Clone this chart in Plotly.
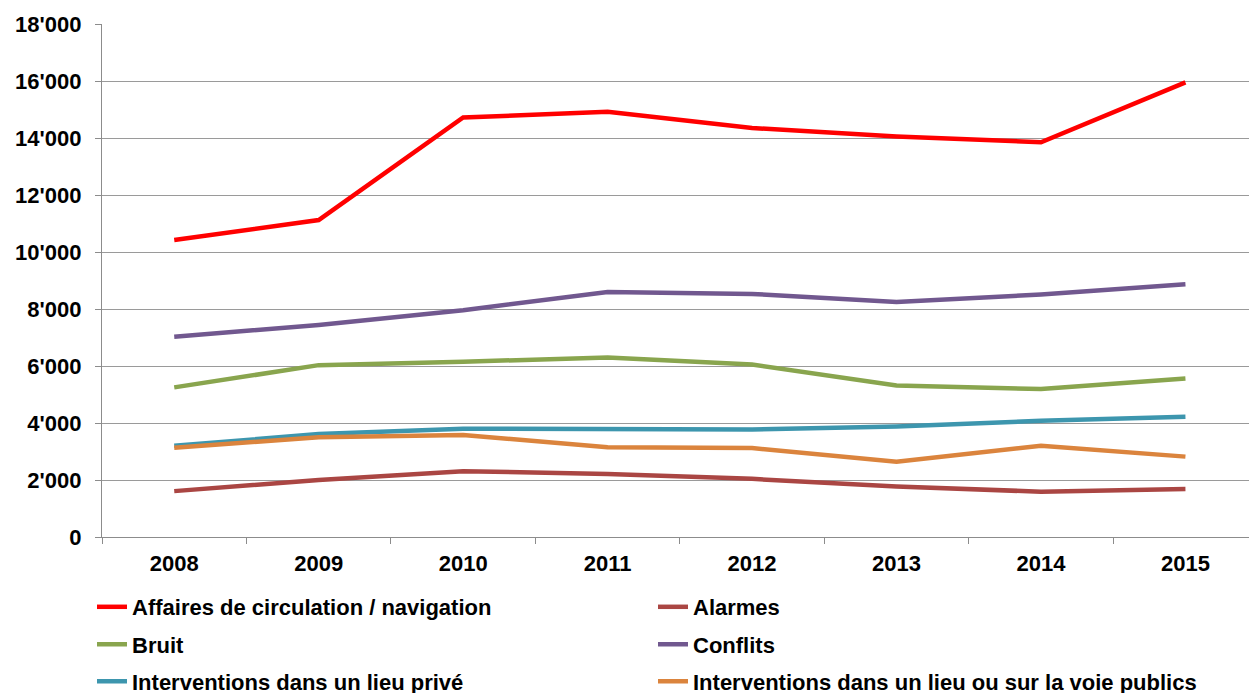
import plotly.graph_objects as go

years = ["2008", "2009", "2010", "2011", "2012", "2013", "2014", "2015"]

circulation = [10420, 11120, 14720, 14920, 14350, 14050, 13850, 15950]
alarmes = [1610, 2000, 2310, 2210, 2040, 1770, 1590, 1680]
bruit = [5250, 6030, 6150, 6300, 6050, 5320, 5190, 5560]
conflits = [7030, 7440, 7960, 8600, 8530, 8250, 8510, 8870]
lieu_prive = [3200, 3610, 3800, 3800, 3770, 3880, 4080, 4220]
lieu_public = [3130, 3500, 3580, 3150, 3120, 2640, 3200, 2820]

y_ticks = [0, 2000, 4000, 6000, 8000, 10000, 12000, 14000, 16000, 18000]
y_tick_text = ["0", "2'000", "4'000", "6'000", "8'000", "10'000",
               "12'000", "14'000", "16'000", "18'000"]

series = [
    ("Affaires de circulation / navigation", circulation, "#FF0000", "legend"),
    ("Alarmes", alarmes, "#AA4643", "legend"),
    ("Bruit", bruit, "#89A54E", "legend2"),
    ("Conflits", conflits, "#71588F", "legend2"),
    ("Interventions dans un lieu privé", lieu_prive, "#3D96AE", "legend3"),
    ("Interventions dans un lieu ou sur la voie publics", lieu_public, "#DB843D", "legend3"),
]

FONT = "Arial, Liberation Sans, sans-serif"
FSIZE = 22

fig = go.Figure()
for name, values, color, leg in series:
    fig.add_trace(go.Scatter(
        x=years, y=values, name=name, mode="lines",
        line=dict(color=color, width=4.5),
        legend=leg,
    ))

L, T, B = 102, 24, 156
W, H = 1249, 693
plot_w = W - L
plot_h = H - T - B


def legend_row(ypix):
    return dict(
        orientation="h",
        x=(92 - L) / plot_w, xanchor="left",
        y=(H - B - ypix) / plot_h, yanchor="middle",
        entrywidth=516, entrywidthmode="pixels",
        font=dict(family=FONT, size=FSIZE, color="#000000", weight="bold"),
        bgcolor="rgba(0,0,0,0)",
        traceorder="normal",
    )


fig.update_layout(
    width=W, height=H,
    margin=dict(l=L, r=0, t=T, b=B, autoexpand=False),
    paper_bgcolor="white",
    plot_bgcolor="white",
    font=dict(family=FONT, size=FSIZE, color="#000000", weight="bold"),
    xaxis=dict(
        type="category",
        range=[-0.5, 7.44],
        tickson="boundaries",
        ticks="outside", ticklen=6, tickcolor="#8C8C8C", tickwidth=1.3,
        showline=True, linecolor="#8C8C8C", linewidth=1.3,
        showgrid=False,
        tickfont=dict(family=FONT, size=FSIZE, color="#000000", weight="bold"),
        ticklabelstandoff=6,
    ),
    yaxis=dict(
        range=[0, 18000],
        tickvals=y_ticks, ticktext=y_tick_text,
        ticks="outside", ticklen=6, tickcolor="#8C8C8C", tickwidth=1.3,
        showline=True, linecolor="#8C8C8C", linewidth=1.3,
        showgrid=True, gridcolor="#9A9A9A", gridwidth=1.3,
        zeroline=False,
        tickfont=dict(family=FONT, size=FSIZE, color="#000000", weight="bold"),
        ticklabelstandoff=9,
    ),
    legend=legend_row(607),
    legend2=legend_row(644.5),
    legend3=legend_row(681.5),
    showlegend=True,
)

fig.write_html("out.html")
